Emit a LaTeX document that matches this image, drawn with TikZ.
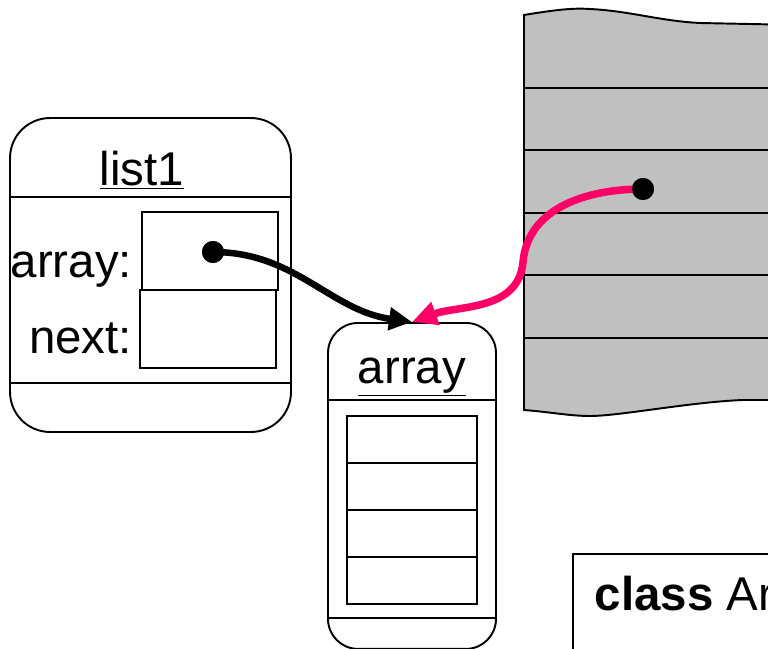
\documentclass[tikz,border=0pt]{standalone}
\usepackage{fontspec}
\setmainfont{Liberation Sans}
\usetikzlibrary{
    arrows.meta,
    positioning
}
\definecolor{refpink}{RGB}{255,0,102}
\definecolor{memgray}{RGB}{192,192,192}

\begin{document}
\begin{tikzpicture}[
    x=0.02cm, y=-0.02cm,
    line width=1.1pt,
    font=\fontsize{27}{32}\selectfont,
    every node/.style={inner sep=0pt},
    objbox/.style={draw, rounded corners=0.8cm},
    fieldbox/.style={draw, minimum width=2.72cm, minimum height=1.56cm},
    cellbox/.style={draw, outer sep=0pt, minimum width=2.6cm, minimum height=0.94cm},
    refdot/.style={circle, fill=black, minimum size=0.44cm},
    blackptr/.style={line width=0.13cm, -{Triangle[length=0.46cm, width=0.44cm]}},
    pinkptr/.style={refpink, line width=0.15cm, -{Triangle[length=0.5cm, width=0.46cm]}}
  ]

  \useasboundingbox (0,0) rectangle (768,649);
  \clip (0,0) rectangle (768,649);

  % memory {{{
  \draw[fill=memgray]
    (524,15) .. controls (560,9) and (575,8) .. (590,9)
    .. controls (630,11) and (660,21) .. (700,23) -- (800,25)
    -- (800,400) -- (743,400)
    .. controls (690,402) and (620,416) .. (590,416)
    .. controls (570,416) and (550,412) .. (524,410) -- cycle;
  \draw (524,88) -- (800,88);
  \draw (524,150) -- (800,150);
  \draw (524,213) -- (800,213);
  \draw (524,275) -- (800,275);
  \draw (524,338) -- (800,338);
  % }}}

  % list1 {{{
  \node[
    objbox,
    minimum width=5.62cm,
    minimum height=6.28cm
  ] (list1) at (150.5,275) {};
  \draw (list1.west |- 0,197) -- (list1.east |- 0,197);
  \draw (list1.west |- 0,383) -- (list1.east |- 0,383);
  \node[anchor=base] (list1title) at (142,185) {\underline{list1}};
  \node[fieldbox] (arrayfield) at (210,251) {};
  \node[fieldbox] (nextfield) at (208,329) {};
  \node[anchor=base east] (arraylabel) at (133,277) {array:};
  \node[anchor=base east] (nextlabel) at (133,353) {next:};
  % }}}

  % array {{{
  \node[
    objbox,
    rounded corners=0.6cm,
    anchor=north,
    minimum width=3.36cm,
    minimum height=6.52cm
  ] (arrayobj) at (412,322) {};
  \draw (arrayobj.west |- 0,400) -- (arrayobj.east |- 0,400);
  \draw (arrayobj.west |- 0,618) -- (arrayobj.east |- 0,618);
  \node[anchor=base] (arraytitle) at (412,383) {\underline{array}};
  \node[cellbox] (cell1) at (412,439.5) {};
  \node[cellbox, below=0pt of cell1] (cell2) {};
  \node[cellbox, below=0pt of cell2] (cell3) {};
  \node[cellbox, below=0pt of cell3] (cell4) {};
  % }}}

  % class {{{
  \node[
    draw,
    anchor=north west,
    minimum width=5cm,
    minimum height=3cm
  ] (classbox) at (572,553) {};
  \node[anchor=base west] (classtext) at (594,610) {\textbf{class} Array};
  % }}}

  % references {{{
  \node[refdot] (listdot) at (213,252) {};
  \draw[blackptr] (listdot.center) to[out=0, in=172] (arrayobj.north);
  \node[refdot] at (listdot) {};

  \node[refdot] (memdot) at (643,189) {};
  \coordinate (memturn) at (523,262);
  \draw[pinkptr] (memdot.center) to[out=180, in=85] (memturn)
    to[out=-95, in=20] (arrayobj.north);
  \node[refdot] at (memdot) {};
  % }}}

\end{tikzpicture}
\end{document}
